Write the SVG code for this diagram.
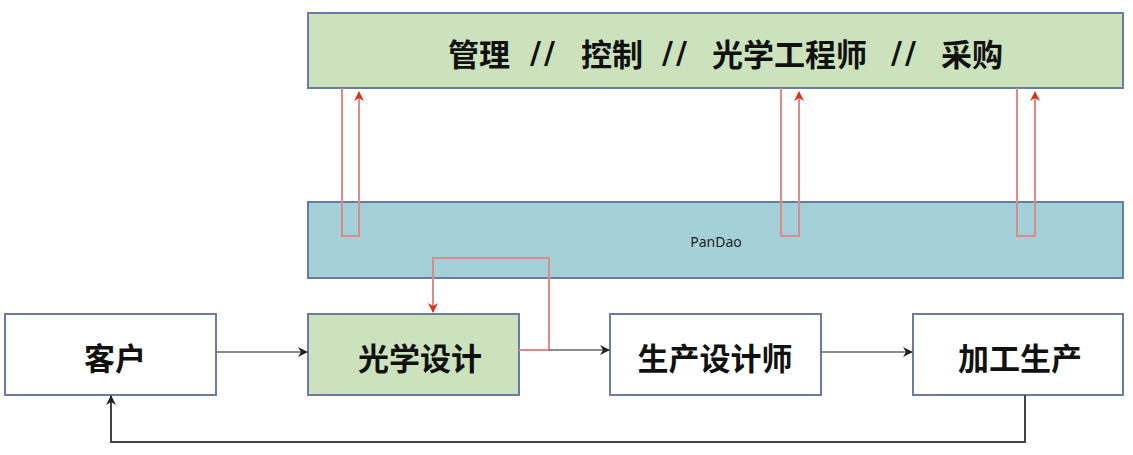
<svg xmlns="http://www.w3.org/2000/svg" width="1133" height="455" viewBox="0 0 1133 455">
<style>
.box{stroke:#6a7ca6;stroke-width:2}
.t{font-family:"Noto Sans CJK SC","Noto Sans",sans-serif;font-weight:bold;fill:#111;text-anchor:middle;dominant-baseline:central}
.ts{font-family:"Noto Sans CJK SC","Noto Sans",sans-serif;font-weight:bold;fill:#111;dominant-baseline:central}
.sl{font-family:"DejaVu Sans",sans-serif;font-weight:bold;font-size:30px;letter-spacing:3px}
.red{fill:none;stroke:#dc8a8a;stroke-width:2}
.blk{fill:none;stroke:#666;stroke-width:1.6}
.fb{fill:none;stroke:#444;stroke-width:2}
</style>
<defs>
<marker id="ar" viewBox="0 0 10 10" refX="9" refY="5" markerWidth="10" markerHeight="10" markerUnits="userSpaceOnUse" orient="auto">
<path d="M0,0 L10,5 L0,10 L3,5 Z" fill="#e0301e"/>
</marker>
<marker id="ab" viewBox="0 0 10 10" refX="9" refY="5" markerWidth="10" markerHeight="10" markerUnits="userSpaceOnUse" orient="auto">
<path d="M0,0 L10,5 L0,10 L3,5 Z" fill="#222"/>
</marker>
</defs>
<rect width="1133" height="455" fill="#fff"/>
<g id="top">
<rect class="box" x="308" y="13" width="815" height="75" fill="#cce2bc"/>
<text class="ts" y="52" font-size="31"><tspan x="448">管理</tspan><tspan class="sl" x="530">//</tspan><tspan x="581">控制</tspan><tspan class="sl" x="662">//</tspan><tspan x="712">光学工程师</tspan><tspan class="sl" x="891">//</tspan><tspan x="941">采购</tspan></text>
</g>
<g id="pandao">
<rect class="box" x="308" y="202" width="815" height="76" fill="#a4d0d7"/>
<text x="716" y="241" font-family="'Noto Sans',sans-serif" font-size="14" fill="#222" text-anchor="middle" dominant-baseline="central">PanDao</text>
</g>
<g id="kehu">
<rect class="box" x="5" y="314" width="211" height="81" fill="#fff"/>
<text class="t" x="115" y="356" font-size="31">客户</text>
</g>
<g id="guangxue">
<rect class="box" x="308" y="314" width="211" height="81" fill="#cce2bc"/>
<text class="t" x="420" y="356" font-size="31">光学设计</text>
</g>
<g id="shengchan">
<rect class="box" x="610" y="314" width="211" height="81" fill="#fff"/>
<text class="t" x="715" y="356" font-size="31">生产设计师</text>
</g>
<g id="jiagong">
<rect class="box" x="913" y="314" width="210" height="81" fill="#fff"/>
<text class="t" x="1020" y="356" font-size="31">加工生产</text>
</g>
<g id="connectors">
<path class="red" d="M342,88 V236 H359 V92" marker-end="url(#ar)"/>
<path class="red" d="M781,88 V236 H799 V92" marker-end="url(#ar)"/>
<path class="red" d="M1017,88 V236 H1035 V92" marker-end="url(#ar)"/>
<path class="red" d="M519,350 H549 V258 H433 V312" marker-end="url(#ar)"/>
<path class="blk" d="M216,352 H307" marker-end="url(#ab)"/>
<path class="blk" d="M549,350 H609" marker-end="url(#ab)"/>
<path class="blk" d="M821,352 H912" marker-end="url(#ab)"/>
<path class="fb" d="M1025,395 V442 H111 V396" marker-end="url(#ab)"/>
</g>
</svg>
